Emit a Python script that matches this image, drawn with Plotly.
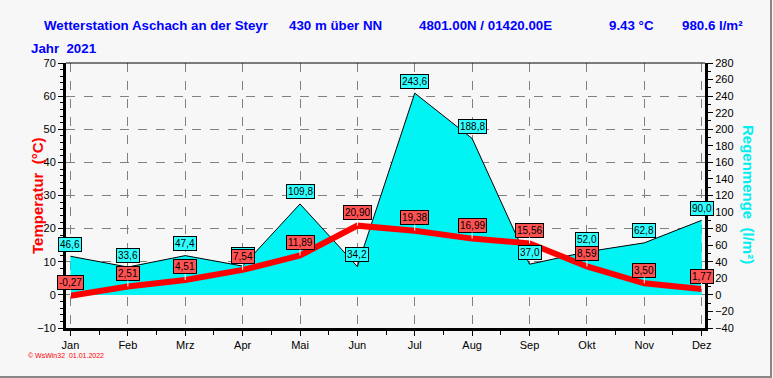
import plotly.graph_objects as go

months = ["Jan", "Feb", "Mrz", "Apr", "Mai", "Jun", "Jul", "Aug", "Sep", "Okt", "Nov", "Dez"]
temp = [-0.27, 2.51, 4.51, 7.54, 11.89, 20.90, 19.38, 16.99, 15.56, 8.59, 3.50, 1.77]
rain = [46.6, 33.6, 47.4, 34.8, 109.8, 34.2, 243.6, 188.8, 37.0, 52.0, 62.8, 90.0]

header_texts = ["Wetterstation Aschach an der Steyr", "430 m über NN", "4801.00N / 01420.00E",
                "9.43 °C", "980.6 l/m²"]
header_px = [42, 287, 417, 607, 680]

W, H = 773, 378
L, R, T, B = 66, 68, 63, 50
PW, PH = W - L - R, H - T - B


def px(x):
    return (x - L) / PW


def py(y):
    return 1 - (y - T) / PH


xs = list(range(len(months)))
BG = "#f7f7f7"
SANS = "Liberation Sans, Arial"

fig = go.Figure()
fig.add_trace(go.Scatter(x=xs, y=rain, yaxis="y", mode="lines",
                         line=dict(color="black", width=1),
                         fill="tozeroy", fillcolor="#00f4f4", hoverinfo="skip",
                         showlegend=False))
fig.add_trace(go.Scatter(x=xs, y=temp, yaxis="y2", mode="lines",
                         line=dict(color="#ff0000", width=6), showlegend=False))

ann = []
for i, v in enumerate(rain):
    ann.append(dict(x=xs[i], y=v, xref="x", yref="y", yshift=12, showarrow=False,
                    text=f"{v:.1f}".replace(".", ","),
                    font=dict(family=SANS, size=10, color="black"),
                    bgcolor="#30ffff", bordercolor="black", borderwidth=1, borderpad=1))
for i, v in enumerate(temp):
    ann.append(dict(x=xs[i], y=v, xref="x", yref="y2", showarrow=True, arrowhead=0,
                    arrowcolor="white", arrowwidth=1, ax=0, ay=-13,
                    text=f"{v:.2f}".replace(".", ","),
                    font=dict(family=SANS, size=10, color="black"),
                    bgcolor="#ff5252", bordercolor="black", borderwidth=1, borderpad=1))

for t, p in zip(header_texts, header_px):
    ann.append(dict(x=px(p), y=py(25), xref="paper", yref="paper", xanchor="left",
                    yanchor="middle", showarrow=False, text=t,
                    font=dict(family=SANS, size=13.3, color="#0000ff", weight="bold")))
ann.append(dict(x=px(29), y=py(48), xref="paper", yref="paper", xanchor="left",
                yanchor="middle", showarrow=False, text="Jahr  2021",
                font=dict(family=SANS, size=13.3, color="#0000ff", weight="bold")))
ann.append(dict(x=px(37), y=py(196), xref="paper", yref="paper", xanchor="center",
                yanchor="middle", showarrow=False, text="Temperatur  (°C)", textangle=-90,
                font=dict(family=SANS, size=15, color="#ff0000", weight="bold")))
ann.append(dict(x=px(749), y=py(194), xref="paper", yref="paper", xanchor="center",
                yanchor="middle", showarrow=False, text="Regenmenge  (l/m²)", textangle=90,
                font=dict(family=SANS, size=15, color="#00eeee", weight="bold")))
ann.append(dict(x=px(26), y=py(355), xref="paper", yref="paper", xanchor="left",
                yanchor="middle", showarrow=False, text="© WsWin32  01.01.2022",
                font=dict(family=SANS, size=7, color="#ff0000")))

shapes = [
    dict(type="line", xref="paper", yref="paper", x0=0, x1=1, y0=1, y1=1,
         line=dict(color="black", width=1)),
    dict(type="line", xref="paper", yref="paper", x0=px(771), x1=px(771), y0=py(0), y1=py(377),
         line=dict(color="#888888", width=2)),
    dict(type="line", xref="paper", yref="paper", x0=px(0), x1=px(772), y0=py(377), y1=py(377),
         line=dict(color="#888888", width=2)),
]

fig.update_layout(
    width=W, height=H,
    margin=dict(l=L, r=R, t=T, b=B, autoexpand=False),
    paper_bgcolor=BG, plot_bgcolor=BG,
    showlegend=False,
    annotations=ann, shapes=shapes,
    xaxis=dict(range=[-0.078, 11.058], tickmode="array", tickvals=xs, ticktext=months,
               ticks="outside", ticklen=5, tickcolor="black",
               showline=True, linewidth=3, linecolor="black",
               showgrid=True, gridcolor="#808080", griddash="dash", gridwidth=1,
               zeroline=False, tickfont=dict(family=SANS, size=11, color="black"),
               minor=dict(tickmode="linear", tick0=0, dtick=0.5, ticks="outside",
                          ticklen=4, tickcolor="black", showgrid=False)),
    yaxis=dict(side="right", range=[-40, 280], tick0=0, dtick=20, ticks="outside",
               ticklen=5, tickcolor="black", showline=True, linewidth=3, linecolor="black",
               showgrid=False, zeroline=False,
               tickfont=dict(family=SANS, size=11, color="black"),
               minor=dict(tick0=0, dtick=10, ticks="outside", ticklen=3, tickcolor="black",
                          showgrid=False)),
    yaxis2=dict(side="left", overlaying="y", anchor="x", range=[-10, 70], tick0=0, dtick=10,
                ticks="outside", ticklen=5, tickcolor="black",
                showline=True, linewidth=3, linecolor="black",
                showgrid=True, gridcolor="#808080", griddash="dash", gridwidth=1,
                zeroline=False, tickfont=dict(family=SANS, size=11, color="black"),
                minor=dict(tick0=0, dtick=2, ticks="outside", ticklen=3, tickcolor="black",
                           showgrid=False)),
)

fig.write_html("out.html", config={"displayModeBar": False},
               post_script="document.body.style.margin='0';document.body.style.padding='0';"
                           "document.body.style.overflow='hidden';")
